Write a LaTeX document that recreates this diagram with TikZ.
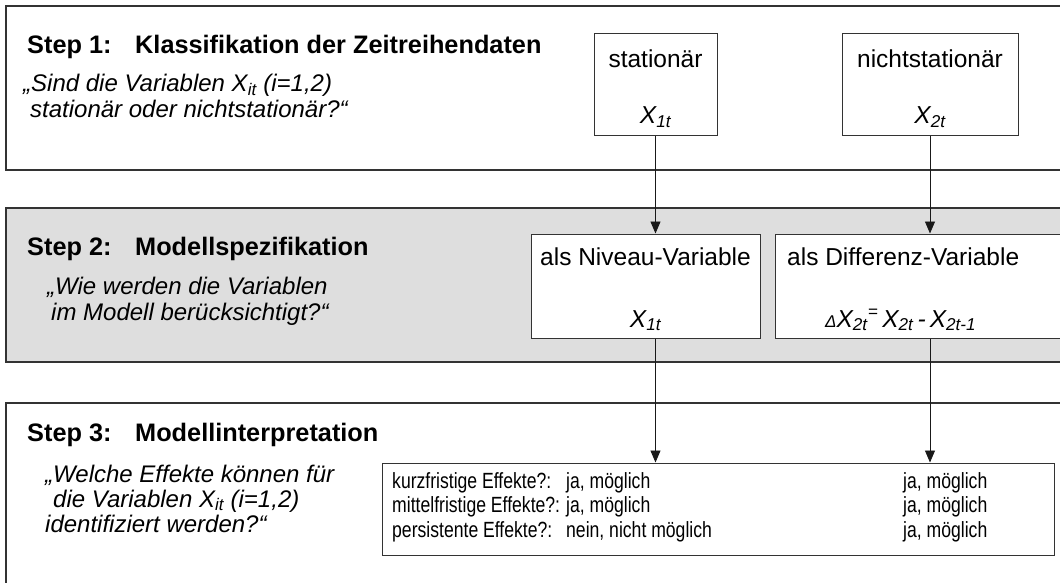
\documentclass[tikz,border=0pt]{standalone}
\usepackage{fontspec}
\setmainfont{Liberation Sans}
\newfontfamily\narrowfont[FakeStretch=0.8]{Liberation Sans}
\usetikzlibrary{arrows.meta}
\begin{document}
\begin{tikzpicture}[x=1pt,y=-1pt,
  frame/.style={draw=black!80,line width=1.1pt},
  vbox/.style={draw=black!80,line width=1pt,fill=white,inner sep=0pt},
  title/.style={anchor=base west,inner sep=0pt,font=\fontsize{25.3}{30}\selectfont\bfseries},
  quest/.style={anchor=base west,inner sep=0pt,font=\fontsize{24}{27.5}\selectfont\itshape},
  boxtxt/.style={anchor=base,inner sep=0pt,font=\fontsize{24.5}{29}\selectfont},
  formula/.style={anchor=base west,inner sep=0pt,font=\fontsize{24.5}{29}\selectfont\itshape},
  tab/.style={anchor=base west,inner sep=0pt,font=\narrowfont\fontsize{22}{24}\selectfont},
  conn/.style={draw=black!90,line width=0.9pt,-{Triangle[width=10pt,length=12pt]}}
]
\useasboundingbox (0,0) rectangle (1060,583);
\clip (0,0) rectangle (1060,583);

% panels
\draw[frame] (6,6) rectangle (1090,170);
\draw[frame,fill=black!13] (6,208) rectangle (1090,362);
\draw[frame] (6,403) rectangle (1090,600);

% step titles
\node[title] (s1a) at (27,54) {Step 1:};
\node[title] (s1b) at (135,54) {Klassifikation der Zeitreihendaten};
\node[title] (s2a) at (27,255) {Step 2:};
\node[title] (s2b) at (135,255) {Modellspezifikation};
\node[title] (s3a) at (27,441) {Step 3:};
\node[title] (s3b) at (135,441) {Modellinterpretation};

% questions
\node[quest] (q1a) at (23,92) {„Sind die Variablen X\textsubscript{it} (i=1,2)};
\node[quest] (q1b) at (30,118) {stationär oder nichtstationär?“};
\node[quest] (q2a) at (47,294) {„Wie werden die Variablen};
\node[quest] (q2b) at (51,320) {im Modell berücksichtigt?“};
\node[quest] (q3a) at (45,482) {„Welche Effekte können für};
\node[quest] (q3b) at (53,507) {die Variablen X\textsubscript{it} (i=1,2)};
\node[quest] (q3c) at (45,532) {identifiziert werden?“};

% step 1 boxes
\node[vbox,minimum width=123pt,minimum height=102pt] (stat) at (655.5,85) {};
\node[vbox,minimum width=176pt,minimum height=102pt] (nstat) at (930,85) {};
\node[boxtxt] (statT) at (655.5,68) {stationär};
\node[boxtxt,font=\fontsize{24.5}{29}\selectfont\itshape] (statX) at (655.5,124) {X\textsubscript{1t}};
\node[boxtxt] (nstatT) at (930,68) {nichtstationär};
\node[boxtxt,font=\fontsize{24.5}{29}\selectfont\itshape] (nstatX) at (930,124) {X\textsubscript{2t}};

% step 2 boxes
\node[vbox,minimum width=229pt,minimum height=104pt] (niv) at (645.5,286) {};
\node[vbox,minimum width=330pt,minimum height=104pt] (diff) at (940,286) {};
\node[boxtxt] (nivT) at (645.5,265) {als Niveau-Variable};
\node[boxtxt,font=\fontsize{24.5}{29}\selectfont\itshape] (nivX) at (645.5,327) {X\textsubscript{1t}};
\node[boxtxt,anchor=base west] (diffT) at (787,265) {als Differenz-Variable};
\node[formula] (diffX) at (825,327) {{\fontsize{17}{20}\selectfont Δ}X\textsubscript{2t}\textsuperscript{=}\,X\textsubscript{2t}\,-\,X\textsubscript{2t-1}};

% step 3 table
\node[vbox,minimum width=672pt,minimum height=92pt] (tabbox) at (718,509) {};
\node[tab] (r1a) at (392,488) {kurzfristige Effekte?:};
\node[tab] (r2a) at (392,512.5) {mittelfristige Effekte?:};
\node[tab] (r3a) at (392,537) {persistente Effekte?:};
\node[tab] (r1b) at (566,488) {ja, möglich};
\node[tab] (r2b) at (566,512.5) {ja, möglich};
\node[tab] (r3b) at (566,537) {nein, nicht möglich};
\node[tab] (r1c) at (903,488) {ja, möglich};
\node[tab] (r2c) at (903,512.5) {ja, möglich};
\node[tab] (r3c) at (903,537) {ja, möglich};

% connectors
\draw[conn] (stat.south) -- (stat.south |- niv.north);
\draw[conn] (nstat.south) -- (nstat.south |- diff.north);
\draw[conn] (niv.south -| stat.south) -- (stat.south |- tabbox.north);
\draw[conn] (diff.south -| nstat.south) -- (nstat.south |- tabbox.north);
\end{tikzpicture}
\end{document}
